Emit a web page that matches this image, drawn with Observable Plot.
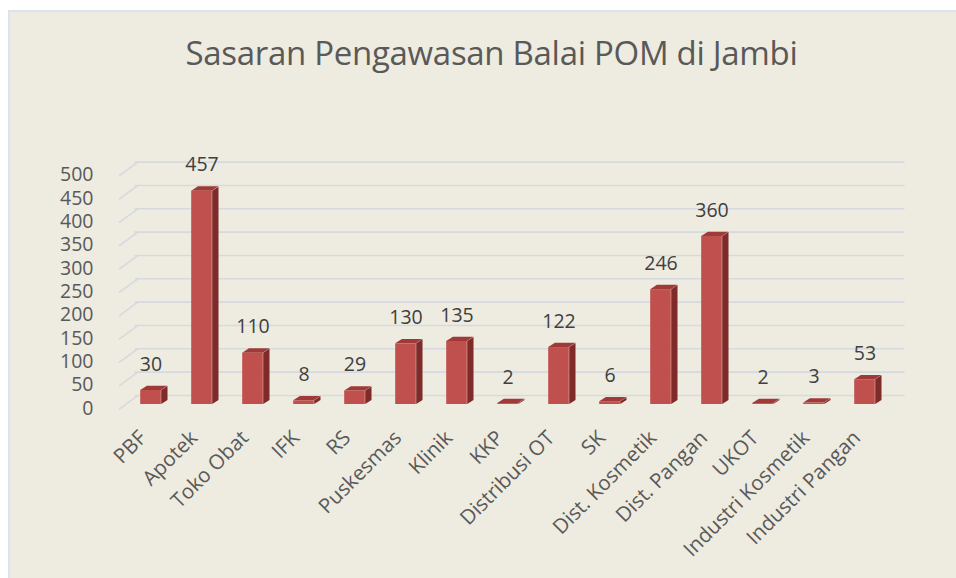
<!DOCTYPE html>
<html>
<head>
<meta charset="utf-8">
<script src="https://cdn.jsdelivr.net/npm/d3@7"></script>
<script src="https://cdn.jsdelivr.net/npm/@observablehq/plot@0.6"></script>
<style>
  html, body { margin: 0; padding: 0; background: #ffffff; width: 956px; height: 578px; overflow: hidden; }
  #panel { position: absolute; left: 8px; top: 10px; width: 960px; height: 580px; background: #eeebe0; border-left: 2px solid #dbe3ee; border-top: 2px solid #dbe3ee; box-sizing: border-box; }
  #title { position: absolute; left: 0; top: 30px; width: 983px; text-align: center; font-family: "Open Sans", sans-serif; font-weight: 400; font-size: 33px; color: #595959; letter-spacing: -0.3px; }
  #chart { position: absolute; left: 0; top: 0; }
</style>
</head>
<body>
<div id="panel"></div>
<div id="title">Sasaran Pengawasan Balai POM di Jambi</div>
<div id="chart"></div>
<script>
const categories = ["PBF", "Apotek", "Toko Obat", "IFK", "RS", "Puskesmas", "Klinik", "KKP", "Distribusi OT", "SK", "Dist. Kosmetik", "Dist. Pangan", "UKOT", "Industri Kosmetik", "Industri Pangan"];
const values = [30, 457, 110, 8, 29, 130, 135, 2, 122, 6, 246, 360, 2, 3, 53];
const yTicks = [0, 50, 100, 150, 200, 250, 300, 350, 400, 450, 500];

const data = categories.map((c, i) => ({category: c, value: values[i]}));

const font = "Open Sans, sans-serif";
const grid = "#d6d9de";
const inset = 15.2;
const depthX = 6.7, depthY = 4.3;
const sideColor = "#7f2b29", topColor = "#9e3a38", frontColor = "#c0504d";

const plot = Plot.plot({
  width: 956,
  height: 578,
  marginLeft: 122,
  marginRight: 64,
  marginTop: 170.6,
  marginBottom: 174,
  style: {background: "transparent", fontFamily: font, overflow: "visible"},
  x: {type: "band", domain: categories, padding: 0, label: null},
  y: {domain: [0, 500], label: null},
  marks: [
    Plot.ruleY(yTicks, {stroke: grid, strokeWidth: 1.6, dy: -9, dx: 12.5}),
    Plot.vector(yTicks, {
      x: () => categories[0], y: d => d,
      length: 22.3, rotate: 54, anchor: "start",
      dx: -31.5, dy: 4.4, stroke: grid, strokeWidth: 1.6,
      shape: {draw(context, l) { context.moveTo(0, 0); context.lineTo(0, -l); }}
    }),
    Plot.axisY({ticks: yTicks, tickSize: 0, tickPadding: 29, dy: 4, fontSize: 19.5, fill: "#595959", tickFormat: d => String(d)}),
    Plot.axisX({tickSize: 0, tickPadding: 30, tickRotate: -45, fontSize: 20.5, fill: "#595959", dx: -8, dy: 0}),
    // side faces
    Plot.barY(data, {x: "category", y: "value", fill: sideColor, insetLeft: inset + 21, insetRight: inset - depthX}),
    // top faces
    Plot.barY(data, {x: "category", y1: "value", y2: "value", fill: topColor, insetLeft: inset, insetRight: inset, insetTop: -depthY, insetBottom: 0}),
    // front faces
    Plot.barY(data, {x: "category", y: "value", fill: frontColor, insetLeft: inset, insetRight: inset}),
    Plot.text(data, {x: "category", y: "value", text: d => String(d.value), dy: -26, dx: 0, fontSize: 19.5, fill: "#404040"})
  ]
});

document.getElementById("chart").appendChild(plot);

// skew the side and top faces into parallelograms
const tanS = depthY / depthX;
d3.select(plot).selectAll(`g[fill='${sideColor}'] rect`).each(function() {
  const r = d3.select(this);
  const x0 = +r.attr("x");
  r.attr("transform", `matrix(1,${-tanS},0,1,0,${tanS * x0})`);
});
d3.select(plot).selectAll(`g[fill='${topColor}'] rect`).each(function() {
  const r = d3.select(this);
  const yb = +r.attr("y") + +r.attr("height");
  const k = depthX / depthY;
  r.attr("transform", `matrix(1,0,${-k},1,${k * yb},0)`);
});
</script>
</body>
</html>
